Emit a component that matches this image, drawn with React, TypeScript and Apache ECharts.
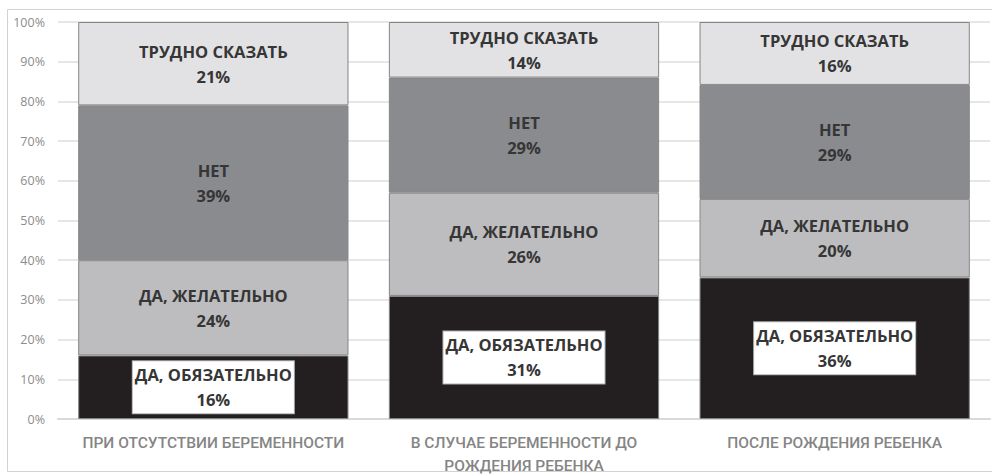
import React, { useEffect, useRef } from "react";
import * as echarts from "echarts";

const categories = [
  "ПРИ ОТСУТСТВИИ БЕРЕМЕННОСТИ",
  "В СЛУЧАЕ БЕРЕМЕННОСТИ ДО\nРОЖДЕНИЯ РЕБЕНКА",
  "ПОСЛЕ РОЖДЕНИЯ РЕБЕНКА",
];
const seriesNames = ["ДА, ОБЯЗАТЕЛЬНО", "ДА, ЖЕЛАТЕЛЬНО", "НЕТ", "ТРУДНО СКАЗАТЬ"];
const mustValues = [16, 31, 36];
const preferValues = [24, 26, 20];
const noValues = [39, 29, 29];
const unsureValues = [21, 14, 16];
const seriesColors = ["#231f20", "#bdbdbf", "#8a8b8e", "#e2e2e4"];

export default function App() {
  const ref = useRef<HTMLDivElement>(null);
  useEffect(() => {
    if (!ref.current) return;
    const chart = echarts.init(ref.current, undefined, { renderer: "svg" });
    const all = [mustValues, preferValues, noValues, unsureValues];
    const totals = categories.map((_, i) => all.reduce((s, arr) => s + arr[i], 0));
    const font = "'Open Sans', 'Noto Sans', sans-serif";
    const series = all.map((vals, si) => ({
      name: seriesNames[si],
      type: "bar",
      stack: "total",
      barWidth: "87%",
      itemStyle: { color: seriesColors[si], borderColor: "#858585", borderWidth: 1 },
      data: vals.map((v, i) => ({ value: (v / totals[i]) * 100, raw: v })),
      label: {
        show: true,
        position: "inside",
        formatter: (p: any) => `${p.seriesName}\n${p.data.raw}%`,
        fontFamily: font,
        fontWeight: "bold",
        fontSize: 16.5,
        lineHeight: 25,
        color: "#363636",
        align: "center",
        ...(si === 0
          ? {
              backgroundColor: "#ffffff",
              borderColor: "#b0b0b0",
              borderWidth: 1,
              padding: [1, 2, 1, 2],
            }
          : {}),
      },
    }));
    chart.setOption({
      animation: false,
      backgroundColor: "#ffffff",
      grid: {
        left: 58,
        right: 2,
        top: 22,
        bottom: 56,
        containLabel: false,
        outerBoundsMode: "none",
      },
      graphic: [
        {
          type: "rect",
          shape: { x: 7.5, y: 9.5, width: 990, height: 462 },
          style: { fill: "none", stroke: "#d2d2d2", lineWidth: 1 },
          silent: true,
          z: -10,
        },
      ],
      xAxis: {
        type: "category",
        data: categories,
        axisLine: { show: true, lineStyle: { color: "#d9d9d9", width: 2 } },
        axisTick: { show: false },
        axisLabel: {
          interval: 0,
          fontFamily: "Roboto, sans-serif",
          fontWeight: 500,
          fontSize: 15.5,
          color: "#858585",
          lineHeight: 23,
          margin: 12,
          align: "center",
        },
      },
      yAxis: {
        type: "value",
        min: 0,
        max: 100,
        interval: 10,
        axisLine: { show: false },
        axisTick: { show: false },
        axisLabel: {
          formatter: "{value}%",
          fontFamily: font,
          fontSize: 12.5,
          color: "#8c8c8c",
          margin: 13,
        },
        splitLine: { show: true, lineStyle: { color: "#e6e6e6", width: 2 } },
      },
      series,
    });
    return () => chart.dispose();
  }, []);
  return (
    <div
      ref={ref}
      style={{ position: "fixed", left: 0, top: 0, width: 992, height: 475, background: "#fff" }}
    />
  );
}
